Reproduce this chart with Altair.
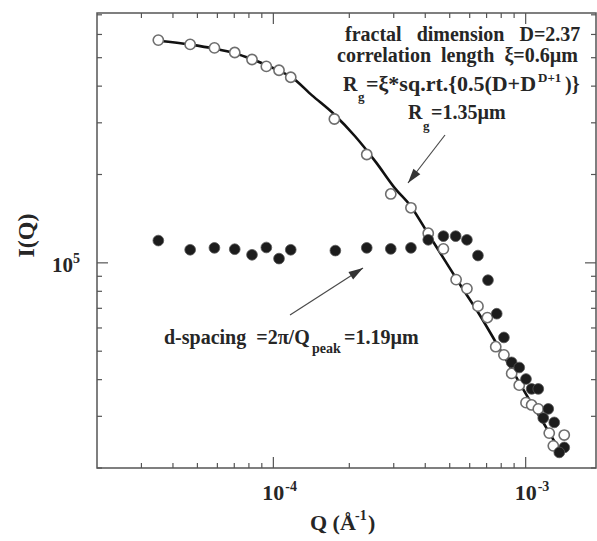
import altair as alt
import pandas as pd

# ---- measured scattering data -------------------------------------------
open_q = [3.50e-5, 4.68e-5, 5.84e-5, 7.03e-5, 8.23e-5, 9.38e-5, 1.053e-4, 1.172e-4,
          1.745e-4, 2.345e-4, 2.92e-4, 3.51e-4, 4.11e-4, 4.72e-4, 5.30e-4, 5.85e-4,
          6.47e-4, 7.05e-4, 7.61e-4, 8.20e-4, 8.80e-4, 9.43e-4, 1.003e-3, 1.056e-3,
          1.122e-3, 1.240e-3, 1.287e-3, 1.422e-3]
open_i = [5.74e5, 5.55e5, 5.40e5, 5.21e5, 4.93e5, 4.67e5, 4.53e5, 4.29e5,
          3.09e5, 2.34e5, 1.717e5, 1.54e5, 1.262e5, 1.116e5, 8.77e4, 8.17e4,
          7.12e4, 6.51e4, 5.18e4, 4.86e4, 4.20e4, 3.83e4, 3.34e4, 3.28e4,
          3.18e4, 2.63e4, 2.38e4, 2.59e4]

solid_q = [3.50e-5, 4.68e-5, 5.84e-5, 7.03e-5, 8.23e-5, 9.38e-5, 1.053e-4, 1.172e-4,
           1.761e-4, 2.345e-4, 2.92e-4, 3.51e-4, 4.11e-4, 4.72e-4, 5.28e-4, 5.85e-4,
           6.47e-4, 7.09e-4, 7.68e-4, 8.20e-4, 8.80e-4, 9.43e-4, 1.003e-3, 1.056e-3,
           1.122e-3, 1.229e-3, 1.174e-3, 1.298e-3, 1.422e-3, 1.359e-3]
solid_i = [1.191e5, 1.108e5, 1.125e5, 1.113e5, 1.065e5, 1.128e5, 1.034e5, 1.108e5,
           1.101e5, 1.125e5, 1.116e5, 1.125e5, 1.198e5, 1.233e5, 1.233e5, 1.198e5,
           1.059e5, 8.73e4, 6.71e4, 5.57e4, 4.58e4, 4.40e4, 4.02e4, 3.72e4,
           3.72e4, 3.18e4, 2.96e4, 2.86e4, 2.35e4, 2.26e4]

# fractal model curve
fit_q = [3.50e-5, 4.68e-5, 5.84e-5, 7.03e-5, 8.23e-5, 9.38e-5, 1.053e-4, 1.172e-4,
         1.423e-4, 1.740e-4, 2.107e-4, 2.553e-4, 3.035e-4, 3.51e-4, 4.10e-4, 4.79e-4,
         5.59e-4, 6.53e-4, 7.63e-4, 8.91e-4, 1.040e-3, 1.215e-3, 1.367e-3]
fit_i = [5.71e5, 5.54e5, 5.37e5, 5.18e5, 4.94e5, 4.72e5, 4.51e5, 4.31e5,
         3.72e5, 3.21e5, 2.70e5, 2.20e5, 1.794e5, 1.557e5, 1.259e5, 1.018e5,
         8.24e4, 6.71e4, 5.35e4, 4.26e4, 3.39e4, 2.72e4, 2.29e4]

# ---- axis ticks and labels ----------------------------------------------
x_major = [1e-4, 1e-3]
x_major_exp = ["-4", "-3"]
x_minor = [3e-5, 4e-5, 5e-5, 6e-5, 7e-5, 8e-5, 9e-5,
           2e-4, 3e-4, 4e-4, 5e-4, 6e-4, 7e-4, 8e-4, 9e-4]
y_major = [1e5]
y_major_exp = ["5"]
y_minor = [2e4, 3e4, 4e4, 5e4, 6e4, 7e4, 8e4, 9e4,
           2e5, 3e5, 4e5, 5e5, 6e5, 7e5]

W, H = 499, 455
FONT = "Liberation Serif"
INK = "#262626"
FRAME = "#555555"

xs = alt.Scale(type="log", domain=[2.0e-5, 1.9e-3], nice=False)
ys = alt.Scale(type="log", domain=[2.0e4, 7.1e5], nice=False)

one = alt.Data(values=[{"k": 0}])


def txt(text, x, y, size=20, align="left", baseline="alphabetic", angle=None):
    kw = dict(text=text, font=FONT, fontWeight="bold", fontSize=size,
              align=align, baseline=baseline, color=INK)
    if angle is not None:
        kw["angle"] = angle
    return alt.Chart(one).mark_text(**kw).encode(x=alt.value(x), y=alt.value(y))


def xticks(vals, length, top):
    y0, y1 = (0, length) if top else (H, H - length)
    return alt.Chart(pd.DataFrame({"v": vals})).mark_rule(
        color=FRAME, strokeWidth=1.2).encode(
        x=alt.X("v:Q", scale=xs, axis=None), y=alt.value(y0), y2=alt.value(y1))


def yticks(vals, length, right):
    x0, x1 = (W, W - length) if right else (0, length)
    return alt.Chart(pd.DataFrame({"v": vals})).mark_rule(
        color=FRAME, strokeWidth=1.2).encode(
        y=alt.Y("v:Q", scale=ys, axis=None), x=alt.value(x0), x2=alt.value(x1))


ticks = [xticks(x_major, 11, False), xticks(x_minor, 5, False),
         xticks(x_major, 11, True), xticks(x_minor, 5, True),
         yticks(y_major, 11, False), yticks(y_minor, 5, False),
         yticks(y_major, 11, True), yticks(y_minor, 5, True)]

xlab_df = pd.DataFrame({"v": x_major, "exp": x_major_exp})
x_base = alt.Chart(xlab_df).mark_text(
    text="10", font=FONT, fontWeight="bold", fontSize=22, align="center",
    baseline="alphabetic", color=INK).encode(
    x=alt.X("v:Q", scale=xs, axis=None), y=alt.value(H + 32))
x_exp = alt.Chart(xlab_df).mark_text(
    font=FONT, fontWeight="bold", fontSize=14, align="left", dx=12,
    baseline="alphabetic", color=INK).encode(
    x=alt.X("v:Q", scale=xs, axis=None), y=alt.value(H + 23), text="exp:N")

ylab_df = pd.DataFrame({"v": y_major, "exp": y_major_exp})
y_base = alt.Chart(ylab_df).mark_text(
    text="10", font=FONT, fontWeight="bold", fontSize=21, align="right", dy=9,
    baseline="alphabetic", color=INK).encode(
    y=alt.Y("v:Q", scale=ys, axis=None), x=alt.value(-24))
y_exp = alt.Chart(ylab_df).mark_text(
    font=FONT, fontWeight="bold", fontSize=14, align="left", dy=0,
    baseline="alphabetic", color=INK).encode(
    y=alt.Y("v:Q", scale=ys, axis=None), x=alt.value(-24), text="exp:N")

curve = alt.Chart(pd.DataFrame({"Q": fit_q, "I": fit_i})).mark_line(
    color="#111111", strokeWidth=2.6, interpolate="monotone").encode(
    x=alt.X("Q:Q", scale=xs, axis=None), y=alt.Y("I:Q", scale=ys, axis=None))

open_pts = alt.Chart(pd.DataFrame({"Q": open_q, "I": open_i})).mark_point(
    shape="circle", filled=True, fill="white", stroke="#6e6e6e", strokeWidth=1.6,
    size=105, opacity=1).encode(
    x=alt.X("Q:Q", scale=xs, axis=None), y=alt.Y("I:Q", scale=ys, axis=None))

solid_pts = alt.Chart(pd.DataFrame({"Q": solid_q, "I": solid_i})).mark_point(
    shape="circle", filled=True, fill="#1c1c1c", stroke="#555555", strokeWidth=0.8,
    size=115, opacity=1).encode(
    x=alt.X("Q:Q", scale=xs, axis=None), y=alt.Y("I:Q", scale=ys, axis=None))

ARROW = "M0,0L-0.6,2L0.6,2Z"


def arrow(x0, y0, x1, y1, angle):
    shaft = alt.Chart(one).mark_rule(color="#4a4a4a", strokeWidth=1.2).encode(
        x=alt.value(x0), y=alt.value(y0), x2=alt.value(x1), y2=alt.value(y1))
    head = alt.Chart(one).mark_point(
        shape=ARROW, filled=True, color="#333333", size=210, angle=angle,
        opacity=1).encode(x=alt.value(x1), y=alt.value(y1))
    return [shaft, head]


notes = [
    txt("fractal\u00a0\u00a0\u00a0dimension\u00a0\u00a0\u00a0D=2.37", 248, 28),
    txt("correlation\u00a0\u00a0length\u00a0\u00a0\u03be=0.6\u00b5m", 240, 48.5),
    txt("R", 246, 77.7),
    txt("g", 261, 88, size=13),
    txt("=\u03be*sq.rt.{0.5(D+D", 269, 77.7, size=22),
    txt("D+1", 441, 68.7, size=13),
    txt(")}", 468, 77.7),
    txt("R", 311, 106.3),
    txt("g", 326, 117, size=13),
    txt("=1.35\u00b5m", 334, 106.3),
    txt("d-spacing\u00a0\u00a0=2\u03c0/Q", 67, 331),
    txt("peak", 215, 339.5, size=14),
    txt("=1.19\u00b5m", 247, 331),
    # axis titles
    txt("I(Q)", -70, 222.5, size=24, align="center", baseline="middle", angle=270),
    txt("Q\u00a0(\u00c5", 213, 517, size=22),
    txt("-1", 258, 507, size=14),
    txt(")", 271, 517, size=22),
]

arrows = arrow(348, 122, 311, 170, 217.6) + arrow(193, 302, 266, 255, 57.5)

chart = alt.layer(
    *ticks, curve, open_pts, solid_pts, x_base, x_exp, y_base, y_exp,
    *arrows, *notes
).properties(
    width=W, height=H,
    padding={"left": 97, "top": 13, "right": 1, "bottom": 73},
    autosize="none", background="white"
).configure_view(stroke=FRAME, strokeWidth=1.5)

chart.save("out.html", embed_options={"renderer": "svg", "actions": False})
